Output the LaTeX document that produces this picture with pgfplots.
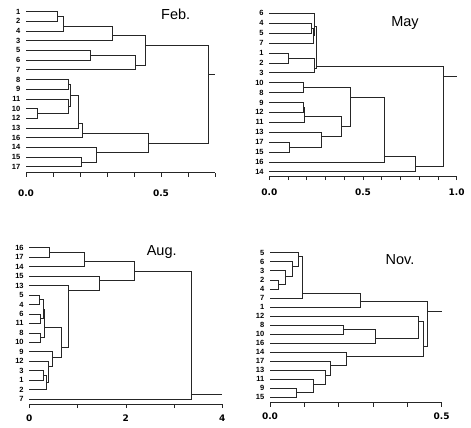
\documentclass[border=0pt]{standalone}
\usepackage{fontspec}
\setmainfont{Liberation Sans}
\newfontfamily\dejavu{DejaVu Sans}
\usepackage{pgfplots}
\pgfplotsset{compat=1.18}
\pgfplotsset{dend/.style={
  scale only axis,
  axis x line*=bottom, axis y line*=left,
  y axis line style={draw=none},
  ytick style={draw=none},
  x axis line style={black!85, line width=0.6pt},
  xtick style={black!85, line width=0.6pt},
  y dir=reverse,
  tick align=outside,
  major tick length=4pt,
  ymin=0.5,
  ytick={1,...,17},
  yticklabel style={font=\fontsize{7.5}{7.5}\selectfont\bfseries, inner sep=1.5pt},
  xticklabel style={font=\dejavu\fontsize{9}{9}\selectfont\bfseries},
  unbounded coords=jump,
  clip=false,
  cycle list={{black!85, line width=0.6pt, mark=none}},
}}
\begin{document}
\begin{tikzpicture}
\useasboundingbox (0,0) rectangle (471pt,-428pt);
% ---------------- Feb ----------------
\begin{axis}[dend, at={(26pt,-172.5pt)}, anchor=south west,
  width=189pt, height=165.7pt, xmin=0, xmax=0.7, ymax=17.6,
  xtick={0,0.1,...,0.71}, xticklabels={0.0,,,,,0.5,,},
  xticklabel style={yshift=-9.5pt},
  yticklabels={1,2,4,3,5,6,7,8,9,11,10,12,13,16,14,15,17}]
\addplot[black!85, line width=0.6pt, mark=none] coordinates {
(0,1)(0.116,1)(0.116,2)(0,2) (nan,nan)
(0.116,1.45)(0.138,1.45)(0.138,3)(0,3) (nan,nan)
(0.138,2.48)(0.32,2.48)(0.32,4)(0,4) (nan,nan)
(0,5)(0.237,5)(0.237,6)(0,6) (nan,nan)
(0.237,5.47)(0.406,5.47)(0.406,7)(0,7) (nan,nan)
(0.32,3.41)(0.443,3.41)(0.443,6.5)(0.406,6.5) (nan,nan)
(0,8)(0.157,8)(0.157,9)(0,9) (nan,nan)
(0,11)(0.042,11)(0.042,12)(0,12) (nan,nan)
(0,10)(0.157,10)(0.157,11.48)(0.042,11.48) (nan,nan)
(0.157,8.5)(0.163,8.5)(0.163,10.79)(0.157,10.79) (nan,nan)
(0.163,9.59)(0.195,9.59)(0.195,13)(0,13) (nan,nan)
(0.195,12.51)(0.21,12.51)(0.21,14)(0,14) (nan,nan)
(0,16)(0.204,16)(0.204,17)(0,17) (nan,nan)
(0,15)(0.259,15)(0.259,16.53)(0.204,16.53) (nan,nan)
(0.21,13.54)(0.453,13.54)(0.453,15.54)(0.259,15.54) (nan,nan)
(0.443,4.44)(0.675,4.44)(0.675,14.57)(0.453,14.57) (nan,nan)
(0.675,7.43)(0.70,7.43)
};
\end{axis}
% ---------------- May ----------------
\begin{axis}[dend, at={(269.3pt,-176pt)}, anchor=south west,
  width=187.4pt, height=167.6pt, xmin=0, xmax=1.0, ymax=17.43,
  xtick={0,0.1,...,1.01}, xticklabels={0.0,,,,,0.5,,,,,1.0},
  xticklabel style={yshift=-5.5pt},
  yticklabels={6,4,5,7,1,2,3,10,8,9,12,11,13,17,15,16,14}]
\addplot[black!85, line width=0.6pt, mark=none] coordinates {
(0,2)(0.226,2)(0.226,3)(0,3) (nan,nan)
(0.226,2.5)(0.233,2.5)(0.233,4)(0,4) (nan,nan)
(0,1)(0.24,1)(0.24,3.2)(0.233,3.2) (nan,nan)
(0,5)(0.101,5)(0.101,6)(0,6) (nan,nan)
(0.101,5.5)(0.242,5.5)(0.242,7)(0,7) (nan,nan)
(0.24,2.3)(0.249,2.3)(0.249,6.6)(0.242,6.6) (nan,nan)
(0,8)(0.181,8)(0.181,9)(0,9) (nan,nan)
(0,10)(0.181,10)(0.181,11)(0,11) (nan,nan)
(0.181,10.5)(0.185,10.5)(0.185,12)(0,12) (nan,nan)
(0,14)(0.107,14)(0.107,15)(0,15) (nan,nan)
(0,13)(0.279,13)(0.279,14.5)(0.107,14.5) (nan,nan)
(0.185,11.44)(0.386,11.44)(0.386,13.46)(0.279,13.46) (nan,nan)
(0.181,8.5)(0.431,8.5)(0.431,12.45)(0.386,12.45) (nan,nan)
(0.431,9.48)(0.612,9.48)(0.612,16)(0,16) (nan,nan)
(0.612,15.48)(0.781,15.48)(0.781,17)(0,17) (nan,nan)
(0.249,6.39)(0.929,6.39)(0.929,16.42)(0.781,16.42) (nan,nan)
(0.929,7.4)(1.0,7.4)
};
\end{axis}
% ---------------- Aug ----------------
\begin{axis}[dend, at={(29.3pt,-404pt)}, anchor=south west,
  width=193pt, height=161pt, xmin=0, xmax=4, ymax=17.53,
  xtick={0,1,2,3,4}, xticklabels={0,,2,,4},
  xticklabel style={yshift=-3.5pt},
  yticklabels={16,17,14,15,13,5,4,6,11,8,10,9,12,3,1,2,7}]
\addplot[black!85, line width=0.6pt, mark=none] coordinates {
(0,1)(0.41,1)(0.41,2)(0,2) (nan,nan)
(0.41,1.5)(1.13,1.5)(1.13,3)(0,3) (nan,nan)
(0,6)(0.2,6)(0.2,7)(0,7) (nan,nan)
(0,8)(0.22,8)(0.22,9)(0,9) (nan,nan)
(0.2,6.5)(0.28,6.5)(0.28,8.5)(0.22,8.5) (nan,nan)
(0,10)(0.22,10)(0.22,11)(0,11) (nan,nan)
(0.28,7.5)(0.31,7.5)(0.31,10.5)(0.22,10.5) (nan,nan)
(0,14)(0.29,14)(0.29,15)(0,15) (nan,nan)
(0.29,14.5)(0.35,14.5)(0.35,16)(0,16) (nan,nan)
(0,13)(0.40,13)(0.40,15.2)(0.35,15.2) (nan,nan)
(0,12)(0.48,12)(0.48,13.5)(0.40,13.5) (nan,nan)
(0.31,9.42)(0.66,9.42)(0.66,12.6)(0.48,12.6) (nan,nan)
(0,5)(0.81,5)(0.81,11.5)(0.66,11.5) (nan,nan)
(0,4)(1.45,4)(1.45,5.47)(0.81,5.47) (nan,nan)
(1.13,2.48)(2.17,2.48)(2.17,4.42)(1.45,4.42) (nan,nan)
(2.17,3.46)(3.35,3.46)(3.35,17)(0,17) (nan,nan)
(3.35,16.46)(4,16.46)
};
\end{axis}
% ---------------- Nov ----------------
\begin{axis}[dend, at={(270pt,-402.7pt)}, anchor=south west,
  width=171.7pt, height=154.5pt, xmin=0, xmax=0.5, ymax=17.6,
  xtick={0,0.1,...,0.51}, xticklabels={0.0,,,,,0.5},
  xticklabel style={yshift=-2.5pt},
  yticklabels={5,6,3,2,4,7,1,12,8,10,16,14,17,13,11,9,15}]
\addplot[black!85, line width=0.6pt, mark=none] coordinates {
(0,4)(0.024,4)(0.024,5)(0,5) (nan,nan)
(0,3)(0.044,3)(0.044,4.5)(0.024,4.5) (nan,nan)
(0,2)(0.066,2)(0.066,3.66)(0.044,3.66) (nan,nan)
(0,1)(0.081,1)(0.081,2.55)(0.066,2.55) (nan,nan)
(0.081,1.44)(0.094,1.44)(0.094,6)(0,6) (nan,nan)
(0.094,5.5)(0.262,5.5)(0.262,7)(0,7) (nan,nan)
(0,9)(0.212,9)(0.212,10)(0,10) (nan,nan)
(0.212,9.5)(0.306,9.5)(0.306,11)(0,11) (nan,nan)
(0,8)(0.432,8)(0.432,10.48)(0.306,10.48) (nan,nan)
(0,16)(0.078,16)(0.078,17)(0,17) (nan,nan)
(0,15)(0.126,15)(0.126,16.5)(0.078,16.5) (nan,nan)
(0,14)(0.16,14)(0.16,15.54)(0.126,15.54) (nan,nan)
(0,13)(0.177,13)(0.177,14.54)(0.16,14.54) (nan,nan)
(0,12)(0.221,12)(0.221,13.44)(0.177,13.44) (nan,nan)
(0.432,8.64)(0.447,8.64)(0.447,12.51)(0.221,12.51) (nan,nan)
(0.262,6.42)(0.458,6.42)(0.458,11.41)(0.447,11.41) (nan,nan)
(0.458,7.46)(0.5,7.46)
};
\end{axis}
% titles
\node[font=\fontsize{14.5}{15}\selectfont] at (175.7pt,-14pt) {Feb.};
\node[font=\fontsize{14.5}{15}\selectfont] at (405pt,-23.3pt) {May};
\node[font=\fontsize{14.5}{15}\selectfont] at (161.7pt,-251.7pt) {Aug.};
\node[font=\fontsize{14.5}{15}\selectfont] at (400pt,-260pt) {Nov.};
\end{tikzpicture}
\end{document}
